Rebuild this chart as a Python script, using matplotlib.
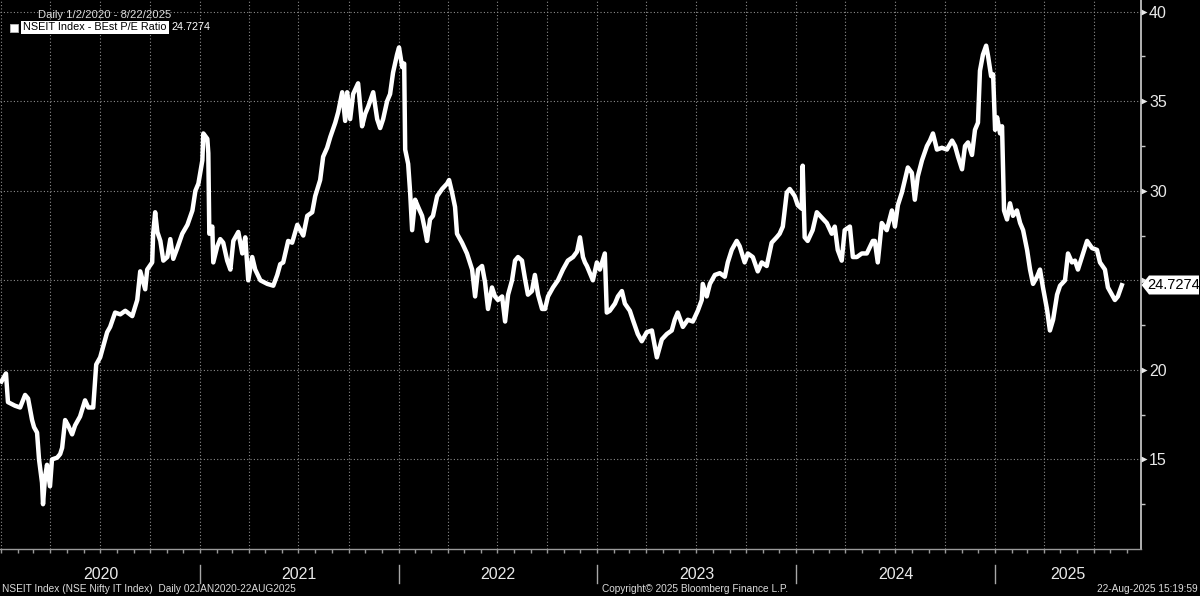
import datetime as dt
import numpy as np
import matplotlib
matplotlib.use("Agg")
import matplotlib.pyplot as plt
import matplotlib.dates as mdates
from matplotlib.patches import Polygon, Rectangle
from matplotlib.transforms import blended_transform_factory
from matplotlib.ticker import FixedLocator, NullFormatter, FuncFormatter

# ---------------- data (decimal years, Best P/E ratio) ----------------
t_2020 = [2020.003, 2020.026, 2020.036, 2020.071, 2020.097, 2020.122, 2020.137, 2020.157, 2020.167, 2020.182,
          2020.192, 2020.207, 2020.212, 2020.222, 2020.232, 2020.247, 2020.257, 2020.283, 2020.298, 2020.308,
          2020.323, 2020.338, 2020.358, 2020.373, 2020.398, 2020.423, 2020.439, 2020.464, 2020.479, 2020.499,
          2020.514, 2020.534, 2020.549, 2020.574, 2020.600, 2020.625, 2020.660, 2020.685, 2020.700, 2020.725,
          2020.735, 2020.760, 2020.765, 2020.775, 2020.786, 2020.801, 2020.816, 2020.836, 2020.851, 2020.866,
          2020.886, 2020.911, 2020.937, 2020.962, 2020.977, 2020.992]
pe_2020 = [19.35, 19.8, 18.2, 18.0, 17.9, 18.6, 18.4, 17.2, 16.8, 16.5,
           15.0, 13.7, 12.5, 14.0, 14.7, 13.5, 15.0, 15.1, 15.3, 15.65,
           17.2, 16.9, 16.4, 16.9, 17.4, 18.3, 17.9, 17.9, 20.3, 20.7,
           21.3, 22.1, 22.4, 23.2, 23.1, 23.3, 23.0, 23.9, 25.5, 24.5,
           25.6, 26.0, 27.6, 28.8, 27.7, 27.2, 26.1, 26.3, 27.3, 26.2,
           26.8, 27.6, 28.1, 28.9, 30.0, 30.4]

t_2021 = [2021.012, 2021.017, 2021.037, 2021.042, 2021.047, 2021.062, 2021.067, 2021.087, 2021.102, 2021.117,
          2021.137, 2021.153, 2021.168, 2021.193, 2021.213, 2021.228, 2021.243, 2021.263, 2021.278, 2021.304,
          2021.339, 2021.369, 2021.389, 2021.404, 2021.419, 2021.444, 2021.464, 2021.490, 2021.505, 2021.520,
          2021.540, 2021.565, 2021.580, 2021.605, 2021.620, 2021.640, 2021.656, 2021.681, 2021.696, 2021.716,
          2021.731, 2021.741, 2021.756, 2021.771, 2021.796, 2021.816, 2021.832, 2021.847, 2021.872, 2021.892,
          2021.907, 2021.922, 2021.942, 2021.957, 2021.972, 2021.992]
pe_2021 = [31.7, 33.2, 32.9, 32.1, 27.6, 28.0, 26.0, 26.9, 27.3, 27.1,
           26.1, 25.6, 27.2, 27.7, 26.5, 27.4, 25.0, 26.3, 25.6, 25.0,
           24.8, 24.7, 25.3, 25.9, 26.0, 27.2, 27.1, 28.1, 27.8, 27.5,
           28.6, 28.8, 29.7, 30.6, 31.9, 32.4, 33.0, 33.8, 34.4, 35.5,
           33.9, 35.5, 34.0, 35.4, 36.0, 33.6, 34.3, 34.7, 35.5, 34.0,
           33.5, 34.0, 35.0, 35.4, 36.6, 37.6]

t_2022 = [2022.002, 2022.018, 2022.028, 2022.033, 2022.048, 2022.058, 2022.068, 2022.083, 2022.098, 2022.118,
          2022.133, 2022.143, 2022.158, 2022.173, 2022.194, 2022.219, 2022.244, 2022.254, 2022.269, 2022.284,
          2022.294, 2022.319, 2022.344, 2022.370, 2022.385, 2022.400, 2022.420, 2022.435, 2022.450, 2022.470,
          2022.485, 2022.500, 2022.521, 2022.536, 2022.551, 2022.571, 2022.586, 2022.601, 2022.621, 2022.636,
          2022.651, 2022.671, 2022.686, 2022.702, 2022.722, 2022.737, 2022.752, 2022.777, 2022.802, 2022.827,
          2022.852, 2022.878, 2022.898, 2022.913, 2022.928, 2022.938, 2022.948, 2022.963, 2022.978, 2022.998]
pe_2022 = [38.0, 36.9, 37.1, 32.3, 31.5, 29.9, 27.8, 29.5, 29.1, 28.6,
           27.8, 27.2, 28.4, 28.6, 29.7, 30.1, 30.4, 30.6, 29.9, 29.1,
           27.6, 27.1, 26.5, 25.6, 24.1, 25.6, 25.8, 24.9, 23.4, 24.6,
           24.1, 23.9, 24.1, 22.7, 24.2, 25.0, 26.1, 26.3, 26.1, 25.1,
           24.2, 24.4, 25.3, 24.2, 23.4, 23.4, 24.1, 24.6, 25.0, 25.6,
           26.1, 26.3, 26.6, 27.4, 26.3, 26.0, 25.8, 25.4, 25.0, 26.0]

t_2023 = [2023.013, 2023.038, 2023.048, 2023.063, 2023.089, 2023.104, 2023.124, 2023.139, 2023.164, 2023.179,
          2023.204, 2023.224, 2023.249, 2023.275, 2023.290, 2023.300, 2023.325, 2023.350, 2023.375, 2023.390,
          2023.405, 2023.431, 2023.456, 2023.481, 2023.506, 2023.526, 2023.531, 2023.551, 2023.567, 2023.592,
          2023.617, 2023.642, 2023.657, 2023.677, 2023.702, 2023.717, 2023.742, 2023.758, 2023.783, 2023.808,
          2023.828, 2023.853, 2023.878, 2023.903, 2023.918, 2023.934, 2023.954, 2023.969, 2023.994]
pe_2023 = [25.6, 26.5, 23.2, 23.3, 23.7, 24.1, 24.4, 23.7, 23.3, 22.8,
           22.0, 21.6, 22.1, 22.2, 21.3, 20.7, 21.7, 22.0, 22.2, 22.8,
           23.2, 22.4, 22.8, 22.7, 23.3, 23.9, 24.8, 24.1, 24.8, 25.3,
           25.4, 25.2, 26.0, 26.7, 27.2, 26.9, 26.0, 26.5, 26.3, 25.5,
           26.0, 25.8, 27.1, 27.4, 27.6, 28.0, 29.9, 30.1, 29.7]

t_2024 = [2024.009, 2024.029, 2024.034, 2024.044, 2024.059, 2024.084, 2024.105, 2024.130, 2024.155, 2024.180,
          2024.195, 2024.210, 2024.230, 2024.245, 2024.271, 2024.286, 2024.306, 2024.331, 2024.356, 2024.386,
          2024.396, 2024.411, 2024.431, 2024.456, 2024.482, 2024.497, 2024.512, 2024.532, 2024.547, 2024.562,
          2024.582, 2024.597, 2024.612, 2024.633, 2024.658, 2024.673, 2024.688, 2024.708, 2024.733, 2024.758,
          2024.784, 2024.799, 2024.814, 2024.834, 2024.849, 2024.864, 2024.884, 2024.899, 2024.914, 2024.924,
          2024.939, 2024.955, 2024.965, 2024.980, 2024.990]
pe_2024 = [29.2, 29.0, 31.4, 27.4, 27.2, 27.8, 28.8, 28.5, 28.2, 27.6,
           28.0, 26.7, 26.1, 27.8, 28.0, 26.3, 26.3, 26.5, 26.5, 27.2,
           27.2, 26.0, 28.2, 27.8, 28.9, 28.0, 29.2, 29.9, 30.6, 31.3,
           31.0, 29.5, 30.8, 31.7, 32.5, 32.8, 33.2, 32.3, 32.4, 32.3,
           32.8, 32.5, 31.9, 31.2, 32.5, 32.7, 32.0, 33.4, 33.8, 36.7,
           37.6, 38.1, 37.5, 36.4, 36.5]

t_2025 = [2025.000, 2025.010, 2025.025, 2025.035, 2025.045, 2025.060, 2025.075, 2025.090, 2025.110, 2025.126,
          2025.141, 2025.161, 2025.176, 2025.191, 2025.211, 2025.226, 2025.241, 2025.261, 2025.276, 2025.292,
          2025.312, 2025.327, 2025.352, 2025.367, 2025.387, 2025.402, 2025.417, 2025.437, 2025.463, 2025.488,
          2025.513, 2025.528, 2025.553, 2025.568, 2025.588, 2025.603, 2025.618, 2025.638]
pe_2025 = [33.4, 34.1, 33.2, 33.6, 28.9, 28.4, 29.3, 28.6, 28.9, 28.2,
           27.8, 26.7, 25.6, 24.8, 25.2, 25.6, 24.6, 23.4, 22.2, 22.8,
           24.2, 24.7, 25.0, 26.5, 26.0, 26.1, 25.6, 26.3, 27.2, 26.8,
           26.7, 26.0, 25.6, 24.6, 24.2, 23.9, 24.1, 24.7274]

last_value = "24.7274"
y_ticks = [15, 20, 25, 30, 35, 40]
y_minor = [12.5, 17.5, 22.5, 27.5, 32.5, 37.5]
year_labels = ["2020", "2021", "2022", "2023", "2024", "2025"]
series_name = "NSEIT Index - BEst P/E Ratio"
range_text = "Daily 1/2/2020 - 8/22/2025"
footer_left = "NSEIT Index (NSE Nifty IT Index)  Daily 02JAN2020-22AUG2025"
footer_mid = "Copyright\u00a9 2025 Bloomberg Finance L.P."
footer_right = "22-Aug-2025 15:19:59"


def to_date(t):
    y = int(np.floor(t))
    frac = t - y
    s = dt.datetime(y, 1, 1)
    e = dt.datetime(y + 1, 1, 1)
    return s + (e - s) * frac


t_all = t_2020 + t_2021 + t_2022 + t_2023 + t_2024 + t_2025
pe_all = pe_2020 + pe_2021 + pe_2022 + pe_2023 + pe_2024 + pe_2025
dates = [to_date(t) for t in t_all]
last_pe = pe_all[-1]

FONT = ["Liberation Sans", "DejaVu Sans"]
plt.rcParams["font.family"] = FONT

W, H = 1200, 596
fig = plt.figure(figsize=(12, 5.96), dpi=100, facecolor="black")


def fx(x):
    return x / W


def fy(y):
    return 1 - y / H


ax = fig.add_axes([0, 47 / H, 1140.7 / W, 549 / H])
ax.set_facecolor("black")
ax.plot(dates, pe_all, color="white", lw=3.2, solid_joinstyle="round", zorder=3)
xmin, xmax = to_date(2019.996), to_date(2025.733)
ax.set_xlim(xmin, xmax)
ax.set_ylim(10, 40.65)

grid_color = "#8c8c8c"
ax.set_yticks(y_ticks)
# the tick label hidden behind the last-value tag is not shown
ax.yaxis.set_major_formatter(FuncFormatter(
    lambda v, p: "" if abs(v - last_pe) < 1.0 else f"{v:g}"))
ax.yaxis.set_minor_locator(FixedLocator(y_minor))
ax.yaxis.tick_right()
ax.tick_params(axis="y", which="major", length=0, pad=6, labelcolor="#e8e8e8", labelsize=11.5)
ax.tick_params(axis="y", which="minor", length=3, width=1, color="#c8c8c8", direction="out")
ax.xaxis.set_major_locator(mdates.MonthLocator(bymonth=[1, 4, 7, 10]))
ax.xaxis.set_minor_locator(mdates.MonthLocator())
ax.xaxis.set_major_formatter(NullFormatter())
ax.tick_params(axis="x", which="both", length=3, width=1, color="#9a9a9a",
               direction="out", labelbottom=False)
ax.grid(True, which="major", color=grid_color, linestyle=(0, (1, 2)), lw=0.8)

for s in ["top", "left"]:
    ax.spines[s].set_visible(False)
ax.spines["right"].set_color("#d0d0d0")
ax.spines["right"].set_linewidth(1.2)
ax.spines["bottom"].set_color("#9a9a9a")
ax.spines["bottom"].set_linewidth(1.0)

# triangle tick markers on right axis
tr_y = blended_transform_factory(ax.transAxes, ax.transData)
for v in y_ticks:
    ax.plot([1.003], [v], marker=">", ms=4.5, color="#e8e8e8", mec="none",
            transform=tr_y, clip_on=False, zorder=5)

# year separators and labels
tr_x = blended_transform_factory(ax.transData, ax.transAxes)
for lab in year_labels:
    yr = int(lab)
    start = dt.datetime(yr, 1, 1)
    end = dt.datetime(yr + 1, 1, 1)
    if yr > int(year_labels[0]):
        ax.plot([start, start], [-0.029, -0.062], color="#a8a8a8", lw=1,
                transform=tr_x, clip_on=False)
    a = max(start, xmin)
    b = min(end, xmax)
    mid = a + (b - a) / 2
    ax.text(mid, -0.046, lab, transform=tr_x, ha="center", va="center",
            color="#e8e8e8", fontsize=11.5)

# value tag at the right axis
tag_y_px = 285
poly = Polygon([(fx(1141.5), fy(tag_y_px)), (fx(1149), fy(tag_y_px - 9.5)),
                (fx(1199), fy(tag_y_px - 9.5)), (fx(1199), fy(tag_y_px + 9.5)),
                (fx(1149), fy(tag_y_px + 9.5))],
               closed=True, transform=fig.transFigure, facecolor="white",
               edgecolor="none", zorder=20, clip_on=False)
ax.add_patch(poly)
ax.text(fx(1174), fy(tag_y_px), last_value, transform=fig.transFigure, ha="center",
        va="center", color="black", fontsize=10.5, zorder=21, clip_on=False)

# legend in the top-left
fig.text(fx(38), fy(15), range_text, ha="left", va="center", color="#dcdcdc", fontsize=8.1)
fig.patches.append(Rectangle((fx(10), fy(32)), fx(8), 8 / H, transform=fig.transFigure,
                             facecolor="white", edgecolor="#bbbbbb", lw=0.6, zorder=10))
name_txt = fig.text(fx(23), fy(27.5), series_name, ha="left", va="center", color="black",
                    fontsize=7.8, zorder=11)
renderer = fig.canvas.get_renderer()
bb = name_txt.get_window_extent(renderer=renderer)
box_right = bb.x1 + 2
fig.patches.append(Rectangle((fx(21), fy(34)), (box_right - 21) / W, 13 / H,
                             transform=fig.transFigure, facecolor="white",
                             edgecolor="none", zorder=10))
fig.text(fx(box_right + 3), fy(27.5), last_value, ha="left", va="center", color="#ffffff",
         fontsize=7.8, zorder=11)

# footer
fig.text(fx(2), fy(589), footer_left, ha="left", va="center", color="#dcdcdc", fontsize=7.3)
fig.text(fx(602), fy(589), footer_mid, ha="left", va="center", color="#dcdcdc", fontsize=7.3)
fig.text(fx(1198), fy(589), footer_right, ha="right", va="center", color="#dcdcdc", fontsize=7.3)

fig.savefig("out.png", dpi=100, facecolor="black")
